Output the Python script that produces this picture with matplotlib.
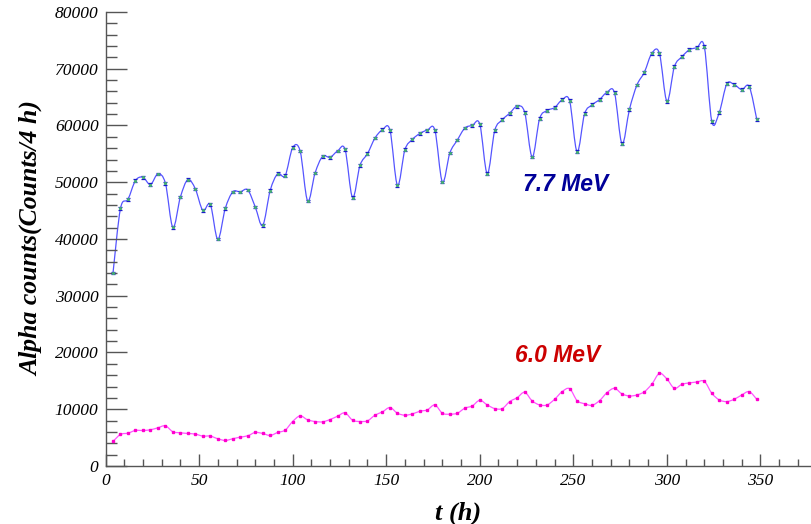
"""Alpha counts vs time for the 7.7 MeV and 6.0 MeV peaks (4 h bins)."""

import numpy as np
import matplotlib
matplotlib.use("Agg")
import matplotlib.pyplot as plt
from matplotlib.path import Path
from matplotlib.patches import PathPatch
from matplotlib.ticker import MultipleLocator

# bin centres (h), one bin every 4 h
t_hours = list(range(4, 349, 4))

counts_77 = [
    34000, 45380, 47000, 50290, 50880, 49590, 51460, 49820, 42040, 47370,
    50470, 48830, 45030, 46080, 39940, 45380, 48300, 48300, 48650, 45670,
    42400, 48540, 51500, 51170, 56080, 55500, 46720, 51640, 54560, 54390,
    55500, 55790, 47310, 52980, 55030, 57780, 59240, 59180, 49470, 55730,
    57550, 58600, 59180, 59180, 50060, 55150, 57430, 59540, 60000, 60240,
    51520, 59120, 61000, 62170, 63400, 62290, 54450, 61230, 62640, 63160,
    64510, 64330, 55380, 62050, 63630, 64570, 65860, 65740, 56790, 62870,
    67140, 69420, 72760, 72700, 64270, 70360, 72110, 73340, 73690, 73870,
    60710, 62340, 67320, 67200, 66320, 66850, 61110,
]

counts_60 = [
    4330, 5560, 5790, 6260, 6260, 6380, 6730, 7080, 6030, 5850,
    5730, 5620, 5270, 5270, 4800, 4500, 4800, 5090, 5320, 5910,
    5730, 5380, 5910, 6320, 7840, 8830, 8130, 7840, 7780, 8190,
    8780, 9360, 8070, 7840, 7960, 8950, 9540, 10300, 9300, 8950,
    9180, 9650, 9890, 10760, 9300, 9130, 9300, 10180, 10590, 11580,
    10760, 10120, 10120, 11350, 12050, 12990, 11470, 10760, 10760, 11760,
    13100, 13630, 11520, 10970, 10700, 11520, 12930, 13690, 12700, 12340,
    12520, 13100, 14450, 16320, 15330, 13690, 14390, 14630, 14800, 14920,
    12810, 11640, 11350, 11760, 12520, 13100, 11760,
]

LABEL_77 = "7.7 MeV"
LABEL_60 = "6.0 MeV"


def smooth_path(x, y):
    """Catmull-Rom curve through the points, as cubic Bezier segments."""
    x = np.asarray(x, float)
    y = np.asarray(y, float)
    p = np.column_stack([x, y])
    ext = np.vstack([p[0], p, p[-1]])
    verts = [p[0]]
    codes = [Path.MOVETO]
    for i in range(len(p) - 1):
        p0, p1, p2, p3 = ext[i], ext[i + 1], ext[i + 2], ext[i + 3]
        c1 = p1 + (p2 - p0) / 6.0
        c2 = p2 - (p3 - p1) / 6.0
        verts += [c1, c2, p2]
        codes += [Path.CURVE4] * 3
    return Path(verts, codes)


fig = plt.figure(figsize=(8.11, 5.24), dpi=100)
ax = fig.add_axes([0.1301, 0.1107, 0.8699, 0.8664])

line_77 = "#5555ff"
line_60 = "#ff55ff"

ax.add_patch(PathPatch(smooth_path(t_hours, counts_77), fill=False, ec=line_77, lw=0.9))
ax.add_patch(PathPatch(smooth_path(t_hours, counts_60), fill=False, ec=line_60, lw=0.9))

ax.errorbar(t_hours, counts_77, yerr=np.sqrt(counts_77), fmt="s", ms=1.2,
            color="#1a1acc", mfc="#44aa77", mec="#44aa77", elinewidth=0.9,
            capsize=1.5, capthick=0.9, zorder=3)
ax.plot(t_hours, counts_60, "s", ms=1.6, color="#ff00cc", zorder=3)

ax.text(223, 48400, LABEL_77, color="#000099", fontsize=16.5,
        family="Liberation Sans", weight="bold", style="italic")
ax.text(219, 18300, LABEL_60, color="#cc0000", fontsize=16.5,
        family="Liberation Sans", weight="bold", style="italic")

ax.set_xlim(0, 377)
ax.set_ylim(0, 80000)

ax.xaxis.set_major_locator(MultipleLocator(50))
ax.xaxis.set_minor_locator(MultipleLocator(10))
ax.yaxis.set_major_locator(MultipleLocator(10000))
ax.yaxis.set_minor_locator(MultipleLocator(2000))

for s in ("top", "right"):
    ax.spines[s].set_visible(False)
for s in ("left", "bottom"):
    ax.spines[s].set_color("#555555")
    ax.spines[s].set_linewidth(1.0)

tick_font = {"family": "Liberation Serif", "style": "italic", "size": 12.5}
ax.tick_params(axis="x", which="major", direction="in", length=9, width=1,
               color="#555555", pad=5)
ax.tick_params(axis="x", which="minor", direction="in", length=5, width=1,
               color="#555555")
ax.tick_params(axis="y", which="major", direction="in", length=15, width=1,
               color="#555555", pad=5)
ax.tick_params(axis="y", which="minor", direction="in", length=8, width=1,
               color="#555555")
for lab in ax.get_xticklabels() + ax.get_yticklabels():
    lab.set_fontfamily(tick_font["family"])
    lab.set_fontstyle(tick_font["style"])
    lab.set_fontsize(tick_font["size"])

ax.set_xlabel("t (h)", family="Liberation Serif", weight="bold", style="italic",
              fontsize=19, labelpad=9)
ax.set_ylabel("Alpha counts(Counts/4 h)", family="Liberation Serif", weight="bold",
              style="italic", fontsize=18.5, labelpad=8)

fig.savefig("out.png", dpi=100)
